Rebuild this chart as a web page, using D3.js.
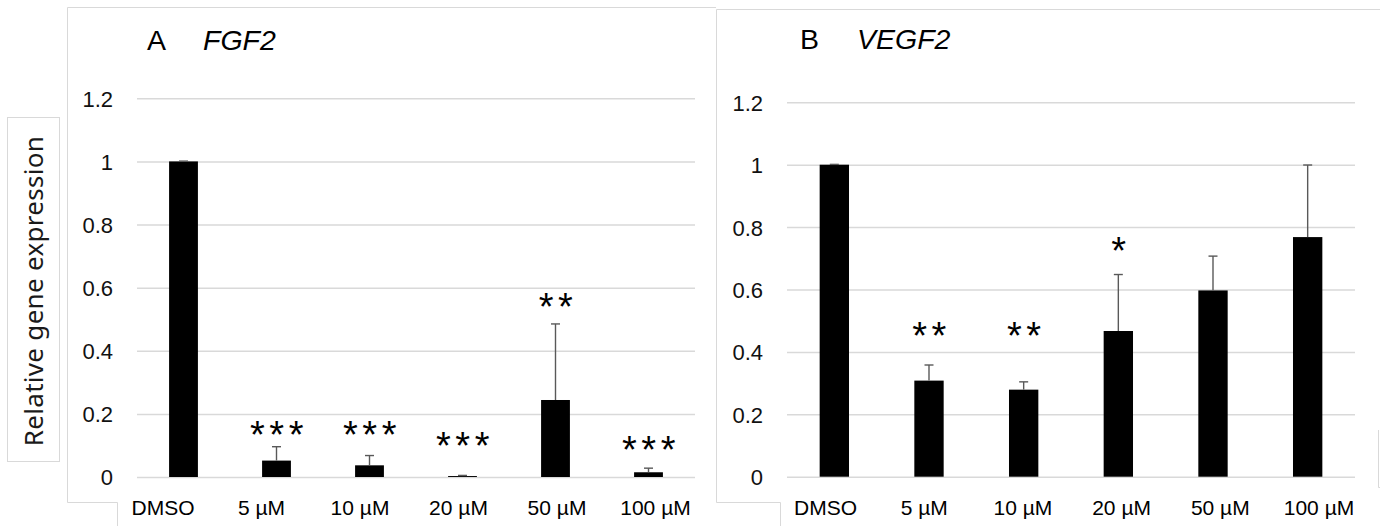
<!DOCTYPE html>
<html>
<head>
<meta charset="utf-8">
<script src="https://cdn.jsdelivr.net/npm/d3@7"></script>
<style>
  body { margin: 0; background: #fff; }
  svg { display: block; }
</style>
</head>
<body>
<svg id="chart" width="1380" height="526"></svg>
<script>
// doses on the x axis (same for both panels)
const doses = ["DMSO", "5 µM", "10 µM", "20 µM", "50 µM", "100 µM"];
const yTicks = [0, 0.2, 0.4, 0.6, 0.8, 1, 1.2];

// A  FGF2 - mean and upper error
const fgf2Mean = [1, 0.052, 0.037, 0.003, 0.244, 0.015];
const fgf2Err  = [0.001, 0.044, 0.031, 0.002, 0.241, 0.013];
const fgf2Sig  = ["", "***", "***", "***", "**", "***"];
const fgf2SigAt = [0, 0.162, 0.162, 0.125, 0.567, 0.114];

// B  VEGF2
const vegfMean = [1, 0.308, 0.279, 0.467, 0.597, 0.768];
const vegfErr  = [0.001, 0.05, 0.025, 0.181, 0.11, 0.231];
const vegfSig  = ["", "**", "**", "*", "", ""];
const vegfSigAt = [0, 0.478, 0.478, 0.752, 0, 0];

const svg = d3.select("#chart");
const font = "'Liberation Sans', Arial, sans-serif";

// frame lines (light grey borders around each panel)
const frame = svg.append("g").attr("stroke", "#d9d9d9").attr("fill", "none").attr("stroke-width", 1);
frame.append("path").attr("d", "M716,7.5H67.5V502.5H117.5V526");
frame.append("path").attr("d", "M1380,9.5H716.5V502.5H780.5V526");
frame.append("path").attr("d", "M1378.5,430V487.5H1380");
frame.append("rect").attr("x", 7.5).attr("y", 117.5).attr("width", 52).attr("height", 344);

// y axis title
svg.append("text")
  .attr("transform", "translate(43,291) rotate(-90)")
  .attr("text-anchor", "middle")
  .style("font-family", "'Noto Sans', 'Open Sans', sans-serif")
  .style("font-size", "26px")
  .style("letter-spacing", "0.3px")
  .attr("fill", "#1a1a1a")
  .text("Relative gene expression");

function drawPanel(p) {
  const x = d3.scaleBand().domain(doses).range(p.xr).paddingInner(0.69).paddingOuter(0.345);
  const y = d3.scaleLinear().domain([0, 1.2]).range(p.yr);
  const xl = d3.scalePoint().domain(doses).range(p.labelR);

  const g = svg.append("g");

  const ax = g.append("g")
    .attr("transform", "translate(" + p.xr[0] + ",0)")
    .call(d3.axisLeft(y).tickValues(yTicks).tickSize(-(p.xr[1] - p.xr[0])).tickPadding(24)
      .tickFormat(d3.format("~g")));
  ax.select(".domain").remove();
  ax.selectAll(".tick line").attr("stroke", "#d9d9d9").attr("stroke-width", 1.5);
  ax.selectAll(".tick text")
    .attr("fill", "#111")
    .attr("dy", "0.36em")
    .style("font-family", font)
    .style("font-size", "22px");

  const rows = doses.map((d, i) => ({ dose: d, v: p.mean[i], e: p.err[i], s: p.sig[i], sy: p.sigAt[i] }));

  g.selectAll("rect.bar").data(rows).enter().append("rect")
    .attr("class", "bar")
    .attr("x", d => x(d.dose))
    .attr("width", x.bandwidth())
    .attr("y", d => y(d.v))
    .attr("height", d => y(0) - y(d.v))
    .attr("fill", "#000");

  // error bars, upper only
  const eb = g.selectAll("g.err").data(rows).enter().append("g")
    .attr("class", "err")
    .attr("stroke", "#595959")
    .attr("stroke-width", 1.4);
  eb.append("line")
    .attr("x1", d => x(d.dose) + x.bandwidth() / 2)
    .attr("x2", d => x(d.dose) + x.bandwidth() / 2)
    .attr("y1", d => y(d.v))
    .attr("y2", d => y(d.v + d.e));
  eb.append("line")
    .attr("x1", d => x(d.dose) + x.bandwidth() / 2 - 4.5)
    .attr("x2", d => x(d.dose) + x.bandwidth() / 2 + 4.5)
    .attr("y1", d => y(d.v + d.e))
    .attr("y2", d => y(d.v + d.e));

  // significance stars
  const starSize = 38;
  g.selectAll("text.sig").data(rows.filter(d => d.s)).enter().append("text")
    .attr("class", "sig")
    .attr("x", d => x(d.dose) + x.bandwidth() / 2 + 2.5)
    .attr("y", d => y(d.sy) + 0.57 * starSize)
    .attr("text-anchor", "middle")
    .style("font-family", font)
    .style("font-size", starSize + "px")
    .style("letter-spacing", "4.5px")
    .attr("fill", "#000")
    .text(d => d.s);

  // category labels
  g.selectAll("text.cat").data(doses).enter().append("text")
    .attr("class", "cat")
    .attr("x", d => xl(d))
    .attr("y", 514.5)
    .attr("text-anchor", "middle")
    .style("font-family", font)
    .style("font-size", "21px")
    .attr("fill", "#000")
    .text(d => d);

  // panel title
  const t = g.append("text")
    .attr("x", p.titleX)
    .attr("y", p.titleY)
    .style("font-family", font)
    .style("font-size", "28.5px")
    .attr("fill", "#000");
  t.append("tspan").text(p.letter);
  t.append("tspan").attr("x", p.geneX).style("font-style", "italic").text(p.gene);
}

drawPanel({
  xr: [137, 695], yr: [477, 98.3], labelR: [163, 655.5],
  mean: fgf2Mean, err: fgf2Err, sig: fgf2Sig, sigAt: fgf2SigAt,
  letter: "A", gene: "FGF2", titleX: 147, geneX: 203, titleY: 49.5
});
drawPanel({
  xr: [787, 1355], yr: [476.7, 102.3], labelR: [825.5, 1319],
  mean: vegfMean, err: vegfErr, sig: vegfSig, sigAt: vegfSigAt,
  letter: "B", gene: "VEGF2", titleX: 800, geneX: 857, titleY: 48.5
});
</script>
</body>
</html>
